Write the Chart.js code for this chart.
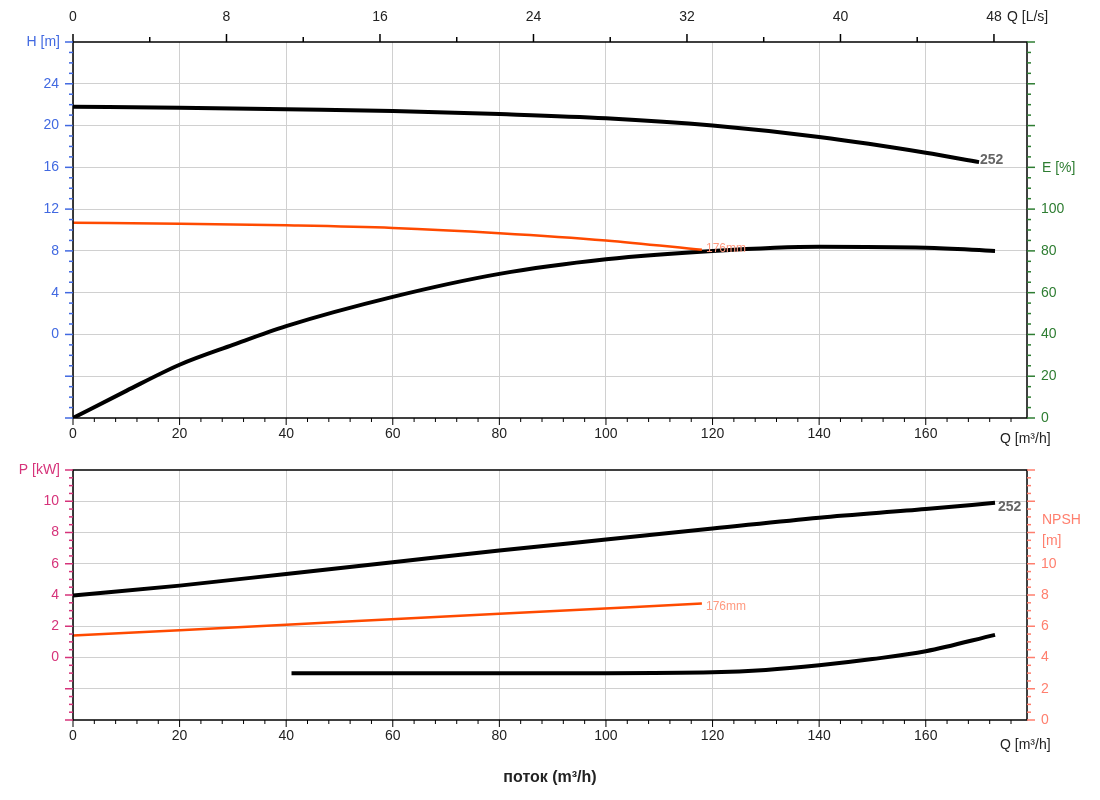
<!DOCTYPE html>
<html><head><meta charset="utf-8">
<script src="https://cdn.jsdelivr.net/npm/chart.js@4"></script>
<style>body{margin:0;background:#fff;width:1100px;height:800px;position:relative;overflow:hidden;font-family:Arial,"Liberation Sans",sans-serif}
canvas{position:absolute;left:0}</style></head><body>
<canvas id="c1" style="top:0px" width="1100" height="450"></canvas>
<canvas id="c2" style="top:440px" width="1100" height="360"></canvas>
<script>
// ---- data ----
const qHead252 = [0,20,40,60,80,100,120,140,160,170];
const head252  = [21.8,21.7,21.55,21.4,21.1,20.7,20.0,18.9,17.4,16.5];
const qHead176 = [0,20,40,60,80,100,118];
const head176  = [10.7,10.6,10.45,10.2,9.7,9.0,8.1];
const qEff     = [0,10,20,30,40,60,80,100,120,140,160,173];
const eff252   = [0,13,25.5,35,44,58,69,76,80,82,81.5,80];
const qPow     = [0,20,40,60,80,100,120,140,160,173];
const pow252   = [3.97,4.6,5.35,6.1,6.85,7.55,8.25,8.95,9.5,9.9];
const qPow176  = [0,40,80,118];
const pow176   = [1.4,2.1,2.8,3.45];
const qNpsh    = [41,60,80,100,120,130,140,150,160,173];
const npsh252  = [3.0,3.0,3.0,3.0,3.05,3.2,3.5,3.9,4.4,5.45];
const xTicks   = [0,20,40,60,80,100,120,140,160];
const lsTicks  = [0,8,16,24,32,40,48];
const hTicks   = [-4,0,4,8,12,16,20,24];
const eTicks   = [0,20,40,60,80,100];
const pTicks   = [-2,0,2,4,6,8,10];
const nTicks   = [0,2,4,6,8,10];

const C_H='#4169e1', C_E='#2e7d32', C_P='#d6337a', C_N='#ff7f6e', C_176='#ff4a00';
const XMAX=179;
const pts=(xs,ys)=>xs.map((x,i)=>({x,y:ys[i]}));
const font={family:'Arial',size:14};
function fix(w,h){return s=>{if(w!=null)s.width=w;if(h!=null)s.height=h;};}
const posOnly=v=>v<0?'':v;

function minorPlugin(cfg){return {id:'extra',afterDraw(ch){
  const c=ch.ctx,a=ch.chartArea,sx=ch.scales.x;
  c.save();
  c.strokeStyle='#000';c.lineWidth=1.5;c.strokeRect(a.left,a.top,a.right-a.left,a.bottom-a.top);
  c.lineWidth=1;
  for(let v=0;v<=XMAX;v+=4){const px=sx.getPixelForValue(v);c.beginPath();c.moveTo(px,a.bottom);c.lineTo(px,a.bottom+(v%20===0?7:4));c.stroke();}
  cfg(ch,c,a,sx);
  c.restore();
}};}
function vticks(c,scale,x,dir,from,to,step,major,color){
  c.strokeStyle=color;c.lineWidth=1.5;
  for(let v=from;v<=to+1e-9;v+=step){const py=scale.getPixelForValue(v);
    const r=Math.abs(((v-from)%major+major)%major);
    const m=r<1e-6||Math.abs(r-major)<1e-6;
    c.beginPath();c.moveTo(x,py);c.lineTo(x+dir*(m?8:4),py);c.stroke();}
}

const common={responsive:false,animation:false,events:[],
  plugins:{legend:{display:false},tooltip:{enabled:false}},layout:{padding:0},
  elements:{point:{radius:0},line:{cubicInterpolationMode:'monotone',borderCapStyle:'butt'}}};

new Chart(document.getElementById('c1'),{type:'scatter',
 data:{datasets:[
  {data:pts(qHead252,head252),showLine:true,borderColor:'#000',borderWidth:4,yAxisID:'y'},
  {data:pts(qHead176,head176),showLine:true,borderColor:C_176,borderWidth:2.5,yAxisID:'y'},
  {data:pts(qEff,eff252),showLine:true,borderColor:'#000',borderWidth:4,yAxisID:'y2'}]},
 options:{...common,
  scales:{
   x:{type:'linear',position:'bottom',min:0,max:XMAX,afterFit:fix(null,32),
      afterBuildTicks:s=>{s.ticks=xTicks.map(v=>({value:v}));},
      ticks:{color:'#222',font,padding:8,maxRotation:0},grid:{color:'#d0d0d0',drawTicks:false},border:{display:false}},
   xt:{type:'linear',position:'top',min:0,max:XMAX/3.6,afterFit:fix(null,42),
      afterBuildTicks:s=>{s.ticks=lsTicks.map(v=>({value:v}));},
      ticks:{color:'#222',font,padding:16,maxRotation:0},grid:{display:false,drawTicks:false},border:{display:false}},
   y:{position:'left',min:-8,max:28,afterFit:fix(73),
      afterBuildTicks:s=>{s.ticks=hTicks.map(v=>({value:v}));},
      ticks:{color:C_H,font,padding:14,callback:posOnly},grid:{color:'#d0d0d0',drawTicks:false},border:{display:false}},
   y2:{position:'right',min:0,max:180,afterFit:fix(73),
      afterBuildTicks:s=>{s.ticks=eTicks.map(v=>({value:v}));},
      ticks:{color:C_E,font,padding:14},grid:{display:false,drawTicks:false},border:{display:false}}}},
 plugins:[minorPlugin((ch,c,a,sx)=>{
   const st=ch.scales.xt;
   c.strokeStyle='#000';c.lineWidth=1.5;
   for(let v=0;v<=48;v+=4){const px=st.getPixelForValue(v);c.beginPath();c.moveTo(px,a.top);c.lineTo(px,a.top-(v%8===0?8:5));c.stroke();}
   vticks(c,ch.scales.y,a.left,-1,-8,28,1,4,C_H);
   vticks(c,ch.scales.y2,a.right,1,0,180,5,20,C_E);
   c.font='14px Arial';c.textBaseline='middle';
   c.fillStyle=C_H;c.textAlign='right';c.fillText('H [m]',60,a.top);
   c.fillStyle=C_E;c.textAlign='left';c.fillText('E [%]',1042,168);
   c.fillStyle='#222';c.fillText('Q [L/s]',1007,17);
   c.fillText('Q [m³/h]',1000,439);
   c.font='bold 14px Arial';c.fillStyle='#666';c.fillText('252',980,160);
   c.font='12px Arial';c.fillStyle='#ff9a80';c.fillText('176mm',706,249);
 })]});

new Chart(document.getElementById('c2'),{type:'scatter',
 data:{datasets:[
  {data:pts(qPow,pow252),showLine:true,borderColor:'#000',borderWidth:4,yAxisID:'y'},
  {data:pts(qPow176,pow176),showLine:true,borderColor:C_176,borderWidth:2.5,yAxisID:'y'},
  {data:pts(qNpsh,npsh252),showLine:true,borderColor:'#000',borderWidth:4,yAxisID:'y2'}]},
 options:{...common,
  scales:{
   x:{type:'linear',position:'bottom',min:0,max:XMAX,afterFit:fix(null,80),
      afterBuildTicks:s=>{s.ticks=xTicks.map(v=>({value:v}));},
      ticks:{color:'#222',font,padding:8,maxRotation:0},grid:{color:'#d0d0d0',drawTicks:false},border:{display:false}},
   xt:{type:'linear',position:'top',display:true,min:0,max:1,afterFit:fix(null,30),
      ticks:{display:false},grid:{display:false,drawTicks:false},border:{display:false}},
   y:{position:'left',min:-4,max:12,afterFit:fix(73),
      afterBuildTicks:s=>{s.ticks=pTicks.map(v=>({value:v}));},
      ticks:{color:C_P,font,padding:14,callback:posOnly},grid:{color:'#d0d0d0',drawTicks:false},border:{display:false}},
   y2:{position:'right',min:0,max:16,afterFit:fix(73),
      afterBuildTicks:s=>{s.ticks=nTicks.map(v=>({value:v}));},
      ticks:{color:C_N,font,padding:14},grid:{display:false,drawTicks:false},border:{display:false}}}},
 plugins:[minorPlugin((ch,c,a,sx)=>{
   vticks(c,ch.scales.y,a.left,-1,-4,12,0.5,2,C_P);
   vticks(c,ch.scales.y2,a.right,1,0,16,0.5,2,C_N);
   c.font='14px Arial';c.textBaseline='middle';
   c.fillStyle=C_P;c.textAlign='right';c.fillText('P [kW]',60,a.top);
   c.fillStyle=C_N;c.textAlign='left';c.fillText('NPSH',1042,80);c.fillText('[m]',1042,101);
   c.fillStyle='#222';c.fillText('Q [m³/h]',1000,305);
   c.font='bold 14px Arial';c.fillStyle='#666';c.fillText('252',998,67);
   c.font='12px Arial';c.fillStyle='#ff9a80';c.fillText('176mm',706,167);
   c.font='bold 16px Arial';c.fillStyle='#222';c.textAlign='center';c.fillText('поток (m³/h)',550,338);
 })]});
</script></body></html>
